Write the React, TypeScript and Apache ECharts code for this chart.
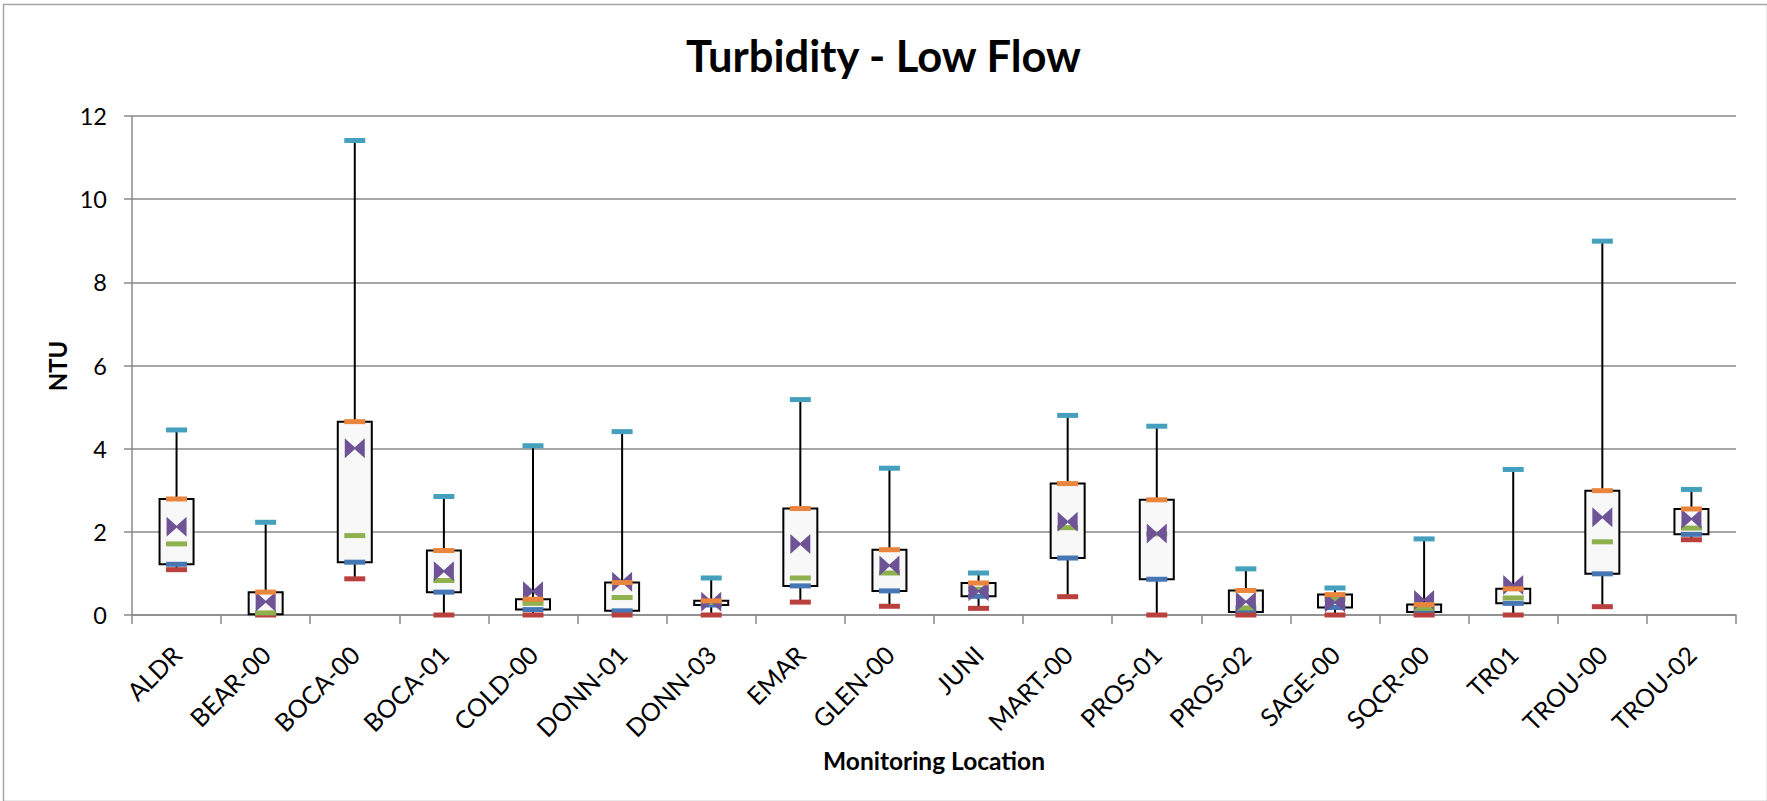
import React, { useEffect, useRef } from "react";
import * as echarts from "echarts";

const categories = ["ALDR", "BEAR-00", "BOCA-00", "BOCA-01", "COLD-00", "DONN-01", "DONN-03", "EMAR", "GLEN-00", "JUNI", "MART-00", "PROS-01", "PROS-02", "SAGE-00", "SQCR-00", "TR01", "TROU-00", "TROU-02"];
const minVals = [1.09, 0.0, 0.87, 0.0, 0.0, 0.0, 0.0, 0.31, 0.21, 0.16, 0.44, 0.0, 0.0, 0.0, 0.0, 0.0, 0.2, 1.81];
const q1Vals = [1.22, 0.02, 1.27, 0.55, 0.13, 0.1, 0.24, 0.7, 0.58, 0.45, 1.37, 0.86, 0.07, 0.18, 0.07, 0.28, 0.99, 1.94];
const medianVals = [1.71, 0.05, 1.91, 0.83, 0.28, 0.42, 0.3, 0.89, 1.01, 0.62, 2.1, 1.95, 0.17, 0.38, 0.16, 0.41, 1.76, 2.09];
const q3Vals = [2.79, 0.55, 4.65, 1.55, 0.38, 0.78, 0.34, 2.56, 1.57, 0.77, 3.16, 2.77, 0.59, 0.49, 0.25, 0.63, 2.99, 2.55];
const maxVals = [4.45, 2.23, 11.41, 2.85, 4.07, 4.41, 0.89, 5.18, 3.53, 1.01, 4.8, 4.54, 1.11, 0.65, 1.83, 3.5, 8.99, 3.02];
const meanVals = [2.12, 0.32, 4.01, 1.05, 0.57, 0.8, 0.32, 1.71, 1.19, 0.57, 2.24, 1.96, 0.32, 0.3, 0.36, 0.72, 2.35, 2.31];
const yTicks = { min: 0, max: 12, interval: 2 };

const FONT = "Lato, 'Open Sans', sans-serif";
const GRID_COLOR = "#8a8a8a";
const BOWTIE = "path://M0,0L10,9L10,11L0,20ZM20,0L10,9L10,11L20,20Z";

export default function App() {
  const ref = useRef<HTMLDivElement>(null);

  useEffect(() => {
    if (!ref.current) return;
    const chart = echarts.init(ref.current, undefined, { renderer: "svg" });

    const boxData = categories.map((_, i) => [i, minVals[i], q1Vals[i], q3Vals[i], maxVals[i]]);
    const dash = (name: string, vals: number[], color: string) => ({
      name,
      type: "scatter",
      symbol: "rect",
      symbolSize: [21, 5],
      itemStyle: { color, opacity: 1 },
      data: vals.map((v, i) => [i, v]),
      z: 3,
    });

    chart.setOption({
      animation: false,
      backgroundColor: "#ffffff",
      title: {
        text: "Turbidity - Low Flow",
        left: "center",
        top: 28,
        textStyle: { fontFamily: FONT, fontSize: 43.5, fontWeight: "bold", color: "#000" },
      },
      grid: { left: 132, right: 31, top: 116, bottom: 186, containLabel: false },
      xAxis: {
        type: "category",
        data: categories,
        boundaryGap: true,
        axisLine: { show: true, lineStyle: { color: GRID_COLOR, width: 1.5 } },
        axisTick: { show: true, length: 9, alignWithLabel: false, interval: 0, lineStyle: { color: GRID_COLOR, width: 1.5 } },
        axisLabel: { interval: 0, rotate: 45, margin: 35, fontFamily: FONT, fontSize: 25, color: "#000" },
        splitLine: { show: false },
        name: "Monitoring Location",
        nameLocation: "middle",
        nameGap: 122,
        nameTextStyle: { fontFamily: FONT, fontSize: 24.5, fontWeight: "bold", color: "#000" },
      },
      yAxis: {
        type: "value",
        min: yTicks.min,
        max: yTicks.max,
        interval: yTicks.interval,
        axisLine: { show: true, lineStyle: { color: GRID_COLOR, width: 1.5 } },
        axisTick: { show: true, length: 8, lineStyle: { color: GRID_COLOR, width: 1.5 } },
        axisLabel: { margin: 25, fontFamily: FONT, fontSize: 23.5, color: "#000" },
        splitLine: { show: true, lineStyle: { color: GRID_COLOR, width: 1.5 } },
      },
      graphic: [
        {
          type: "rect",
          left: 1,
          top: 2,
          shape: { x: 0, y: 0, width: 1764, height: 797 },
          style: { fill: "none", stroke: "#a6a6a6", lineWidth: 1.5 },
          silent: true,
          z: -10,
        },
        {
          type: "text",
          x: 57,
          y: 366,
          rotation: Math.PI / 2,
          style: {
            text: "NTU",
            fontFamily: FONT,
            fontSize: 24,
            fontWeight: "bold",
            fill: "#000",
            textAlign: "center",
            textVerticalAlign: "middle",
          },
        },
      ],
      series: [
        {
          name: "box",
          type: "custom",
          data: boxData,
          encode: { x: 0, y: [1, 2, 3, 4] },
          z: 2,
          renderItem: (params: any, api: any) => {
            const idx = api.value(0);
            const pMin = api.coord([idx, api.value(1)]);
            const pQ1 = api.coord([idx, api.value(2)]);
            const pQ3 = api.coord([idx, api.value(3)]);
            const pMax = api.coord([idx, api.value(4)]);
            const w = 34;
            return {
              type: "group",
              children: [
                {
                  type: "line",
                  shape: { x1: pMin[0], y1: pMin[1], x2: pMax[0], y2: pMax[1] },
                  style: { stroke: "#000", lineWidth: 2 },
                },
                {
                  type: "rect",
                  shape: { x: pQ1[0] - w / 2, y: pQ3[1], width: w, height: pQ1[1] - pQ3[1] },
                  style: { fill: "#f8f8f8", stroke: "#000", lineWidth: 2 },
                },
              ],
            };
          },
        },
        dash("Q1", q1Vals, "#4676b4"),
        dash("Min", minVals, "#b9403d"),
        dash("Median", medianVals, "#8fb04e"),
        {
          name: "Mean",
          type: "scatter",
          symbol: BOWTIE,
          symbolSize: [20, 20],
          itemStyle: { color: "#6e5496", opacity: 1 },
          data: meanVals.map((v, i) => [i, v]),
          z: 3,
        },
        dash("Max", maxVals, "#44a0bc"),
        dash("Q3", q3Vals, "#e9853c"),
      ],
    });

    return () => chart.dispose();
  }, []);

  return (
    <div
      ref={ref}
      style={{ position: "fixed", left: 0, top: 0, width: 1767, height: 801, background: "#fff" }}
    />
  );
}
